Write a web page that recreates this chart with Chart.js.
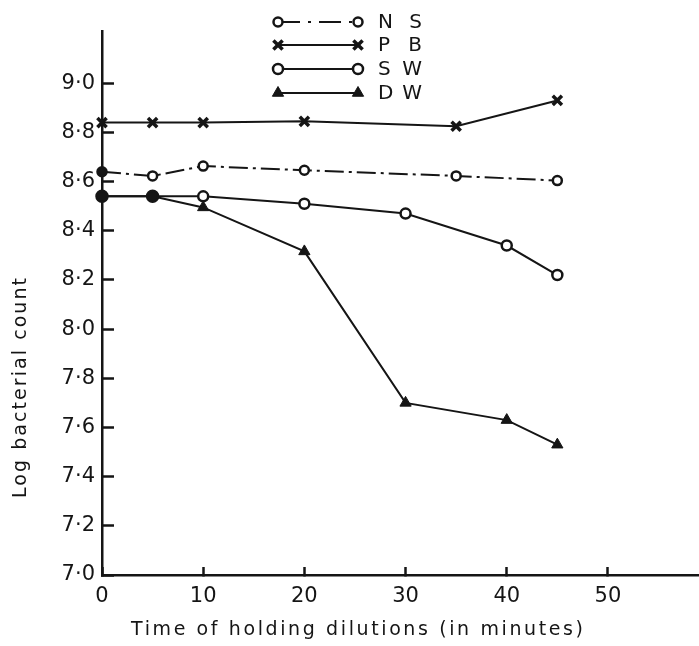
<!DOCTYPE html>
<html><head><meta charset="utf-8">
<script src="https://cdn.jsdelivr.net/npm/chart.js@4.4.0/dist/chart.umd.min.js"></script>
<style>html,body{margin:0;padding:0;background:#fff;overflow:hidden}</style>
</head><body>
<canvas id="c" width="699" height="646"></canvas>
<script>
// ---- data ----
const seriesLabels = ['N S', 'P B', 'S W', 'D W'];
const timeNS = [0, 5, 10, 20, 35, 45];
const valuesNS = [8.64, 8.623, 8.663, 8.646, 8.623, 8.604];
const timePB = [0, 5, 10, 20, 35, 45];
const valuesPB = [8.84, 8.84, 8.84, 8.845, 8.825, 8.93];
const timeSW = [0, 5, 10, 20, 30, 40, 45];
const valuesSW = [8.54, 8.54, 8.54, 8.51, 8.47, 8.34, 8.22];
const timeDW = [0, 5, 10, 20, 30, 40, 45];
const valuesDW = [8.54, 8.54, 8.495, 8.316, 7.70, 7.63, 7.53];
const xTickValues = [0, 10, 20, 30, 40, 50];
const yTickValues = [7.0, 7.2, 7.4, 7.6, 7.8, 8.0, 8.2, 8.4, 8.6, 8.8, 9.0];
const xTitle = 'Time of holding dilutions (in minutes)';
const yTitle = 'Log bacterial count';

const INK = '#151515';
const FONT = 'DejaVu Sans';
const pts = (xv, yv) => xv.map((x, i) => ({x: x, y: yv[i]}));

const datasets = [
  {label: seriesLabels[0], data: pts(timeNS, valuesNS), borderColor: INK, borderWidth: 2,
   borderDash: [19, 5, 3, 5], pointStyle: 'circle', pointRadius: 4.5, pointBorderWidth: 2.5,
   pointBorderColor: INK, pointBackgroundColor: timeNS.map((t, i) => i === 0 ? INK : '#fff')},
  {label: seriesLabels[1], data: pts(timePB, valuesPB), borderColor: INK, borderWidth: 2,
   pointStyle: 'crossRot', pointRadius: 6.5, pointBorderWidth: 3.5, pointBorderColor: INK, pointBackgroundColor: INK},
  {label: seriesLabels[2], data: pts(timeSW, valuesSW), borderColor: INK, borderWidth: 2,
   pointStyle: 'circle', pointRadius: timeSW.map((t, i) => i < 2 ? 5.5 : 5), pointBorderWidth: 2.5,
   pointBorderColor: INK, pointBackgroundColor: timeSW.map((t, i) => i < 2 ? INK : '#fff')},
  {label: seriesLabels[3], data: pts(timeDW, valuesDW), borderColor: INK, borderWidth: 2,
   pointStyle: timeDW.map((t, i) => i < 2 ? 'circle' : 'triangle'),
   pointRadius: timeDW.map((t, i) => i < 2 ? 5.5 : 6.5), pointBorderWidth: 1,
   pointBorderColor: INK, pointBackgroundColor: INK}
];
datasets.forEach(d => { d.clip = false; d.tension = 0; d.fill = false; });

const fmtY = v => v.toFixed(1).replace('.', '\u00B7');

function spacedText(ctx, text, x, y, targetW) {
  ctx.letterSpacing = '0px';
  const w = ctx.measureText(text).width;
  const sp = Math.max(0, (targetW - w) / (text.length - 1));
  ctx.letterSpacing = sp.toFixed(2) + 'px';
  ctx.fillText(text, x, y);
  ctx.letterSpacing = '0px';
}

const decorations = {
  id: 'decorations',
  afterDraw(chart) {
    const ctx = chart.ctx, a = chart.chartArea;
    ctx.save();
    ctx.fillStyle = INK;
    // axis titles
    ctx.font = '19px "' + FONT + '"';
    ctx.textAlign = 'left'; ctx.textBaseline = 'middle';
    spacedText(ctx, xTitle, a.left + 29, 630, 452);
    ctx.save();
    ctx.translate(21, 498); ctx.rotate(-Math.PI / 2);
    spacedText(ctx, yTitle, 0, 0, 220);
    ctx.restore();
    // legend
    const rows = [22, 45, 69, 93];
    const x1 = 278, x2 = 358;
    chart.data.datasets.forEach((d, i) => {
      const y = rows[i];
      ctx.save();
      ctx.strokeStyle = d.borderColor; ctx.lineWidth = d.borderWidth;
      ctx.setLineDash(d.borderDash ? [22, 8, 3, 8] : []);
      ctx.beginPath(); ctx.moveTo(x1, y); ctx.lineTo(x2, y); ctx.stroke();
      ctx.setLineDash([]);
      const last = v => Array.isArray(v) ? v[v.length - 1] : v;
      const style = last(d.pointStyle), rad = last(d.pointRadius), bg = last(d.pointBackgroundColor);
      [x1, x2].forEach(px => {
        ctx.fillStyle = bg; ctx.strokeStyle = d.pointBorderColor; ctx.lineWidth = d.pointBorderWidth;
        Chart.helpers.drawPoint(ctx, {pointStyle: style, radius: rad, rotation: 0, borderWidth: d.pointBorderWidth}, px, y);
      });
      ctx.restore();
      ctx.fillStyle = INK;
      ctx.font = '20px "' + FONT + '"';
      ctx.textAlign = 'left'; ctx.textBaseline = 'middle';
      spacedText(ctx, d.label, 378, y + 1, 44);
    });
    ctx.restore();
  }
};

new Chart(document.getElementById('c'), {
  type: 'line',
  data: {datasets: datasets},
  options: {
    responsive: false,
    animation: false,
    layout: {autoPadding: false, padding: {top: 17, right: 0, left: 0, bottom: 0}},
    plugins: {legend: {display: false}, tooltip: {enabled: false}, title: {display: false}},
    scales: {
      x: {
        type: 'linear', min: 0, max: 59,
        afterBuildTicks: s => { s.ticks = xTickValues.map(v => ({value: v})); },
        afterFit: s => { s.height = 71; },
        // negative tick length draws the tick marks inward (upward from the axis)
        grid: {display: true, drawOnChartArea: false, drawTicks: true, tickLength: -8,
               tickWidth: 2.5, tickColor: INK},
        border: {display: true, color: INK, width: 2.5},
        ticks: {color: INK, padding: 17, maxRotation: 0, autoSkip: false,
                font: {family: FONT, size: 21}, callback: v => String(v)}
      },
      y: {
        type: 'linear', min: 7.0, max: 9.21,
        afterBuildTicks: s => { s.ticks = yTickValues.map(v => ({value: v})); },
        afterFit: s => { s.width = 102; },
        // negative tick length draws the tick marks inward (to the right of the axis)
        grid: {display: true, drawOnChartArea: false, drawTicks: true, tickLength: -12,
               tickWidth: 2.5, tickColor: INK},
        border: {display: true, color: INK, width: 2.5},
        ticks: {color: INK, padding: 19, autoSkip: false,
                font: {family: FONT, size: 21}, callback: v => fmtY(v)}
      }
    }
  },
  plugins: [decorations]
});
</script>
</body></html>
